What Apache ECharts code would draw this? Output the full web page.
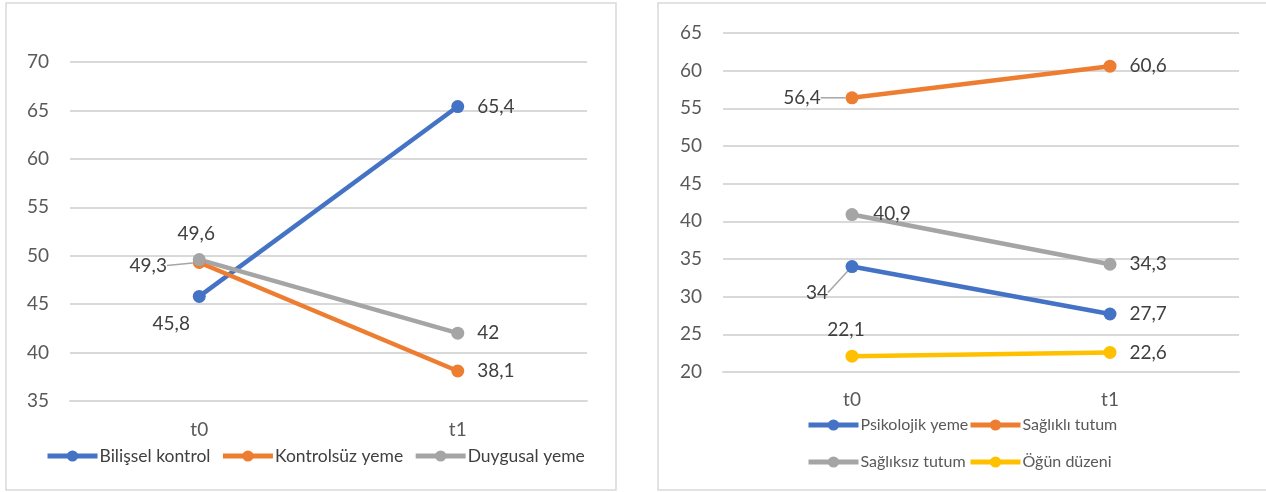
<!DOCTYPE html>
<html>
<head>
<meta charset="utf-8">
<script src="https://cdn.jsdelivr.net/npm/echarts@6/dist/echarts.min.js"></script>
<style>
  html, body { margin: 0; padding: 0; background: #ffffff; overflow: hidden; }
  #chart { width: 1266px; height: 492px; }
</style>
</head>
<body>
<div id="chart"></div>
<script>
// Measurement times
const categories = ['t0', 't1'];

// Left panel series
const bilisselKontrol = [45.8, 65.4];
const kontrolsuzYeme = [49.3, 38.1];
const duygusalYeme = [49.6, 42];

// Right panel series
const psikolojikYeme = [34, 27.7];
const sagliklıTutum = [56.4, 60.6];
const sagliksizTutum = [40.9, 34.3];
const ogunDuzeni = [22.1, 22.6];

const FONT = 'Lato, "Open Sans", sans-serif';
const BLUE = '#4472C4', ORANGE = '#ED7D31', GRAY = '#A5A5A5', YELLOW = '#FFC000';

const fmt = p => String(p.value).replace('.', ',');

// the label of the first point is shifted by [dx, dy]; the second point is labelled on the right
function makeSeries(name, values, color, idx, shift, guide) {
  return {
    type: 'line',
    name: name,
    xAxisIndex: idx,
    yAxisIndex: idx,
    symbol: 'circle',
    symbolSize: 13,
    lineStyle: { width: 4.5, color: color },
    itemStyle: { color: color },
    label: {
      show: true, formatter: fmt, color: '#404040',
      fontSize: 19, fontFamily: FONT
    },
    labelLine: { show: false, lineStyle: { color: '#a6a6a6', width: 1.5 } },
    labelLayout: params => params.dataIndex === 0 ? { dx: shift[0], dy: shift[1] } : null,
    data: values.map((v, i) => i === 0
      ? { value: v, label: { position: 'inside' }, labelLine: { show: !!guide } }
      : { value: v, label: { position: 'right', distance: 13 }, labelLine: { show: false } })
  };
}

function valueAxis(idx, min, max) {
  return {
    type: 'value', gridIndex: idx, min: min, max: max, interval: 5,
    axisLine: { show: false }, axisTick: { show: false },
    axisLabel: { color: '#595959', fontSize: 19, fontFamily: FONT, margin: 21 },
    splitLine: { lineStyle: { color: '#d9d9d9', width: 2 } }
  };
}

function categoryAxis(idx, margin) {
  return {
    type: 'category', gridIndex: idx, data: categories, boundaryGap: true,
    axisLine: { show: true, lineStyle: { color: '#d9d9d9', width: 2 } },
    axisTick: { show: false },
    axisLabel: { color: '#595959', fontSize: 19, fontFamily: FONT, margin: margin }
  };
}

function legendBase(data, left, top, size, textColor) {
  return {
    data: data, left: left, top: top, itemWidth: 50, itemHeight: 14,
    itemGap: 10, padding: 0, selectedMode: false,
    lineStyle: { width: 5 },
    itemStyle: { borderWidth: 0 },
    textStyle: { color: textColor, fontSize: size, fontFamily: FONT, padding: [0, 0, 0, -3] }
  };
}

const chart = echarts.init(document.getElementById('chart'), null, { renderer: 'canvas' });

chart.setOption({
  backgroundColor: '#ffffff',
  animation: false,
  graphic: [
    { type: 'rect', shape: { x: 6, y: 3, width: 610, height: 487 },
      style: { fill: 'none', stroke: '#d9d9d9', lineWidth: 1.5 }, silent: true },
    { type: 'rect', shape: { x: 658, y: 3, width: 640, height: 487 },
      style: { fill: 'none', stroke: '#d9d9d9', lineWidth: 1.5 }, silent: true }
  ],
  grid: [
    { left: 70, top: 62, width: 517, height: 339 },
    { left: 723, top: 33, width: 516, height: 339 }
  ],
  xAxis: [categoryAxis(0, 19), categoryAxis(1, 18)],
  yAxis: [valueAxis(0, 35, 70), valueAxis(1, 20, 65)],
  legend: [
    legendBase(['Bilişsel kontrol', 'Kontrolsüz yeme', 'Duygusal yeme'], 45, 447, 17.5, '#404040'),
    legendBase(['Psikolojik yeme'], 806, 417, 16, '#595959'),
    legendBase(['Sağlıklı tutum'], 968, 417, 16, '#595959'),
    legendBase(['Sağlıksız tutum'], 806, 454, 16, '#595959'),
    legendBase(['Öğün düzeni'], 968, 454, 16, '#595959')
  ],
  series: [
    makeSeries('Bilişsel kontrol', bilisselKontrol, BLUE, 0, [-28, 27]),
    makeSeries('Kontrolsüz yeme', kontrolsuzYeme, ORANGE, 0, [-51, 3], true),
    makeSeries('Duygusal yeme', duygusalYeme, GRAY, 0, [-3, -26]),
    makeSeries('Psikolojik yeme', psikolojikYeme, BLUE, 1, [-35, 26], true),
    makeSeries('Sağlıklı tutum', sagliklıTutum, ORANGE, 1, [-50, 0], true),
    makeSeries('Sağlıksız tutum', sagliksizTutum, GRAY, 1, [40, -1]),
    makeSeries('Öğün düzeni', ogunDuzeni, YELLOW, 1, [-6, -26])
  ]
});
</script>
</body>
</html>
